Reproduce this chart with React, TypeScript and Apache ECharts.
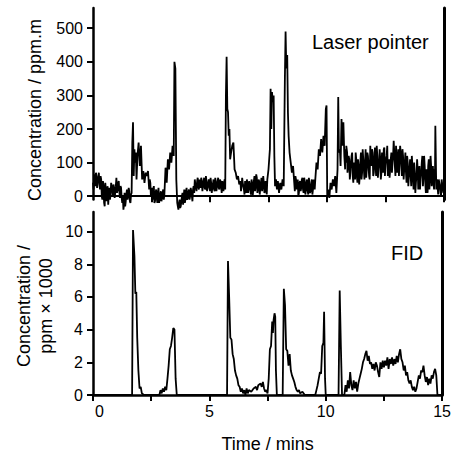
import React, { useEffect, useRef } from "react";
import * as echarts from "echarts";

// Time (mins) and laser pointer concentration (ppm.m), main readings
const laserPoints: [number, number][] = [
  [0, 40], [0.05, 65], [0.1, 30], [0.15, 60], [0.2, 45], [0.25, 70], [0.3, 20], [0.35, 50], [0.4, -10], [0.45, 30],
  [0.5, -30], [0.55, 20], [0.6, 10], [0.65, -25], [0.7, 25], [0.75, 5], [0.8, 30], [0.85, 0], [0.9, 25], [0.95, 10],
  [1.0, 55], [1.05, 20], [1.1, 45], [1.15, -5], [1.2, 25], [1.25, -20], [1.3, -40], [1.35, 10], [1.4, -15], [1.45, 20],
  [1.5, 0], [1.55, 15], [1.6, -20], [1.65, 10], [1.68, 160], [1.71, 220], [1.74, 60], [1.77, 140], [1.8, 100], [1.83, 130],
  [1.86, 50], [1.9, 120], [1.95, 160], [2.0, 90], [2.05, 150], [2.1, 50], [2.15, 75], [2.2, 40], [2.25, 70], [2.3, 60],
  [2.35, 75], [2.4, 20], [2.45, 40], [2.5, 10], [2.55, -10], [2.6, 30], [2.65, -15], [2.7, 20], [2.75, -20], [2.8, 25],
  [2.85, -10], [2.9, 15], [2.95, -5], [3.0, 20], [3.05, 5], [3.1, 85], [3.15, 40], [3.2, 110], [3.25, 80], [3.3, 130],
  [3.35, 100], [3.4, 150], [3.45, 120], [3.48, 400], [3.52, 380], [3.56, 50], [3.6, -20], [3.65, -40], [3.7, -10], [3.75, -30],
  [3.8, 0], [3.85, -25], [3.9, 20], [3.95, -10], [4.0, 25], [4.05, -5], [4.1, 20], [4.15, 0], [4.2, 15], [4.25, -15],
  [4.3, 30], [4.35, 50], [4.4, 25], [4.45, 45], [4.5, 30], [4.55, 50], [4.6, 25], [4.65, 45], [4.7, 30], [4.75, 55],
  [4.8, 20], [4.85, 45], [4.9, 30], [4.95, 50], [5.0, 15], [5.05, 40], [5.1, 25], [5.15, 50], [5.2, 15], [5.25, 40],
  [5.3, 30], [5.35, 55], [5.4, 20], [5.45, 45], [5.5, 10], [5.55, 30], [5.6, 40], [5.65, 20], [5.68, 300], [5.71, 415],
  [5.74, 260], [5.77, 250], [5.8, 180], [5.83, 200], [5.86, 110], [5.9, 130], [5.95, 150], [6.0, 160], [6.05, 80], [6.1, 70],
  [6.15, 50], [6.2, 60], [6.25, 35], [6.3, 45], [6.35, 30], [6.4, 40], [6.45, 20], [6.5, 45], [6.55, 10], [6.6, 40],
  [6.65, 25], [6.7, 35], [6.75, 5], [6.8, 40], [6.85, 20], [6.9, 60], [6.95, 30], [7.0, 55], [7.05, 20], [7.1, 45],
  [7.15, 25], [7.2, 55], [7.25, 30], [7.3, 40], [7.35, 15], [7.4, 30], [7.45, 50], [7.5, 80], [7.53, 110], [7.56, 140],
  [7.59, 320], [7.62, 200], [7.65, 310], [7.68, 280], [7.72, 300], [7.75, 120], [7.78, 30], [7.82, 50], [7.86, 20], [7.9, 45],
  [7.95, 10], [8.0, 40], [8.05, 20], [8.1, 50], [8.15, 30], [8.2, 350], [8.23, 490], [8.26, 380], [8.3, 420], [8.33, 250],
  [8.36, 180], [8.4, 130], [8.45, 100], [8.5, 70], [8.55, 90], [8.6, 40], [8.65, 60], [8.7, 20], [8.75, 50], [8.8, 10],
  [8.85, 45], [8.9, 25], [8.95, 55], [9.0, 10], [9.05, 45], [9.1, 20], [9.15, 50], [9.2, 5], [9.25, 40], [9.3, 15],
  [9.35, 50], [9.4, 20], [9.45, 40], [9.5, 50], [9.55, 100], [9.6, 80], [9.65, 140], [9.7, 120], [9.75, 170], [9.8, 130],
  [9.85, 180], [9.9, 150], [9.95, 260], [9.98, 270], [10.01, 0], [10.05, 20], [10.1, -5], [10.15, 40], [10.2, 20], [10.25, 50],
  [10.3, 30], [10.35, 60], [10.4, 10], [10.45, 80], [10.48, 295], [10.51, 130], [10.55, 140], [10.58, 90], [10.62, 230], [10.66, 150],
  [10.7, 220], [10.74, 120], [10.78, 140], [10.82, 100], [10.86, 130], [10.9, 90], [10.95, 110], [11.0, 70], [11.05, 120], [11.1, 60],
  [11.15, 100], [11.2, 50], [11.25, 110], [11.3, 40], [11.35, 90], [11.4, 60], [11.45, 130], [11.5, 70], [11.55, 110], [11.6, 50],
  [11.65, 140], [11.7, 80], [11.75, 120], [11.8, 60], [11.85, 150], [11.9, 90], [11.95, 130], [12.0, 70], [12.05, 145], [12.1, 60],
  [12.15, 120], [12.2, 80], [12.25, 140], [12.3, 50], [12.35, 130], [12.4, 70], [12.45, 145], [12.5, 90], [12.55, 120], [12.6, 60],
  [12.65, 110], [12.7, 80], [12.75, 130], [12.8, 100], [12.85, 165], [12.9, 90], [12.95, 150], [13.0, 70], [13.05, 140], [13.1, 110],
  [13.15, 130], [13.2, 60], [13.25, 120], [13.3, 80], [13.35, 130], [13.4, 40], [13.45, 100], [13.5, 60], [13.55, 110], [13.6, 30],
  [13.65, 90], [13.7, 20], [13.75, 70], [13.8, 40], [13.85, 110], [13.9, 20], [13.95, 90], [14.0, 50], [14.05, 100], [14.1, 30],
  [14.15, 120], [14.2, 40], [14.25, 80], [14.3, 10], [14.35, 110], [14.4, 50], [14.45, 90], [14.5, 60], [14.55, 40], [14.6, 80],
  [14.63, 210], [14.67, 20], [14.7, 50], [14.75, 5], [14.8, 40], [14.85, 10], [14.9, 50], [14.95, 20], [15.0, 45],
];

// Extra readings between the main ones (the noisy baseline)
const laserNoisePoints: [number, number][] = [
  [0.025, 20], [0.075, 45], [0.125, 70], [0.175, 25], [0.225, 55], [0.275, 35], [0.325, 60], [0.375, 0], [0.425, 45], [0.475, -20],
  [0.525, 40], [0.575, -15], [0.625, 30], [0.675, 5], [0.725, -10], [0.775, 40], [0.825, 15], [0.875, 35], [0.925, -5], [0.975, 30],
  [1.025, 10], [1.075, 40], [1.125, 15], [1.175, 30], [1.225, -5], [1.275, 0], [1.325, -25], [1.375, -30], [1.425, 5], [1.475, -10],
  [1.525, 25], [1.575, -15], [1.625, 5],
  [2.425, 50], [2.475, 0], [2.525, 25], [2.575, 20], [2.625, -20], [2.675, 10], [2.725, -5], [2.775, 10], [2.825, -20], [2.875, 5],
  [2.925, -15], [2.975, 10], [3.025, -10],
  [3.625, -30], [3.675, -20], [3.725, -35], [3.775, -15], [3.825, 10], [3.875, -5], [3.925, -20], [3.975, 15], [4.025, -10], [4.075, 10],
  [4.125, -10], [4.175, 25], [4.225, 0], [4.275, 20],
  [4.325, 10], [4.375, 35], [4.425, 15], [4.475, 55], [4.525, 20], [4.575, 35], [4.625, 55], [4.675, 15], [4.725, 45], [4.775, 25],
  [4.825, 60], [4.875, 15], [4.925, 40], [4.975, 25], [5.025, 55], [5.075, 10], [5.125, 35], [5.175, 20], [5.225, 55], [5.275, 15],
  [5.325, 45], [5.375, 25], [5.425, 50], [5.475, 30], [5.525, 45], [5.575, 15], [5.625, 50],
  [6.325, 15], [6.375, 55], [6.425, 30], [6.475, 5], [6.525, 35], [6.575, 50], [6.625, 10], [6.675, 45], [6.725, 15], [6.775, 50],
  [6.825, 0], [6.875, 45], [6.925, 15], [6.975, 65], [7.025, 10], [7.075, 50], [7.125, 5], [7.175, 40], [7.225, 15], [7.275, 60],
  [7.325, 10], [7.375, 45], [7.425, 5],
  [8.625, 15], [8.675, 50], [8.725, 35], [8.775, 0], [8.825, 40], [8.875, 15], [8.925, 50], [8.975, 20], [9.025, 55], [9.075, 5],
  [9.125, 40], [9.175, 15], [9.225, 55], [9.275, 10], [9.325, 30], [9.375, 5], [9.425, 50], [9.475, 20],
  [10.775, 80], [10.825, 150], [10.875, 70], [10.925, 120], [10.975, 50], [11.025, 100], [11.075, 130], [11.125, 40], [11.175, 90], [11.225, 130],
  [11.275, 60], [11.325, 110], [11.375, 35], [11.425, 100], [11.475, 50], [11.525, 140], [11.575, 80], [11.625, 100], [11.675, 55], [11.725, 130],
  [11.775, 90], [11.825, 50], [11.875, 110], [11.925, 140], [11.975, 60], [12.025, 110], [12.075, 90], [12.125, 150], [12.175, 55], [12.225, 100],
  [12.275, 110], [12.325, 70], [12.375, 100], [12.425, 140], [12.475, 60], [12.525, 110], [12.575, 150], [12.625, 90], [12.675, 55], [12.725, 110],
  [12.775, 70], [12.825, 120], [12.875, 130], [12.925, 60], [12.975, 120], [13.025, 100], [13.075, 60], [13.125, 150], [13.175, 90], [13.225, 140],
  [13.275, 50], [13.325, 100], [13.375, 70], [13.425, 120], [13.475, 30], [13.525, 80], [13.575, 60], [13.625, 120], [13.675, 50], [13.725, 100],
  [13.775, 10], [13.825, 60], [13.875, 80], [13.925, 40], [13.975, 20], [14.025, 70], [14.075, 120], [14.125, 60], [14.175, 90], [14.225, 10],
  [14.275, 50], [14.325, 90], [14.375, 20], [14.425, 120], [14.475, 30], [14.525, 90], [14.575, 20], [14.615, 60],
  [14.725, 30], [14.775, 50], [14.825, 30], [14.875, 0], [14.925, 35], [14.975, 10],
];

// Time (mins) and FID concentration (ppm x 1000)
const fidPoints: [number, number][] = [
  [0, 0], [1.68, 0], [1.72, 10.1], [1.78, 8.5], [1.82, 6.2], [1.86, 6.3], [1.9, 3.5], [1.95, 1.5], [2.0, 0.4], [2.05, 0.5],
  [2.1, 0.1], [2.2, 0], [2.85, 0], [2.9, 0.3], [2.95, 0.1], [3.0, 0.4], [3.05, 0.2], [3.1, 0.5], [3.15, 0.3], [3.2, 1.0],
  [3.25, 1.8], [3.3, 2.8], [3.35, 3.0], [3.4, 3.5], [3.45, 4.1], [3.5, 4.0], [3.55, 1.0], [3.6, 0], [5.76, 0], [5.8, 8.2],
  [5.85, 6.0], [5.9, 3.5], [5.95, 3.4], [6.0, 2.5], [6.05, 2.2], [6.1, 1.5], [6.15, 1.2], [6.2, 1.0], [6.25, 0.6], [6.3, 0.5],
  [6.35, 0.2], [6.4, 0.4], [6.45, 0.1], [6.5, 0.3], [6.55, 0.0], [6.6, 0.4], [6.65, 0.1], [6.7, 0.3], [6.8, 0.2], [6.9, 0.4],
  [7.0, 0.5], [7.05, 0.3], [7.1, 0.6], [7.2, 0.7], [7.25, 0.5], [7.3, 0.8], [7.35, 0.4], [7.4, 0.2], [7.45, 0.3], [7.5, 0.1],
  [7.55, 1.0], [7.6, 2.8], [7.65, 3.0], [7.7, 4.5], [7.73, 3.8], [7.76, 4.6], [7.8, 5.0], [7.83, 4.8], [7.86, 1.5], [7.9, 0],
  [8.15, 0], [8.2, 6.5], [8.25, 5.5], [8.3, 2.8], [8.35, 2.7], [8.4, 1.8], [8.45, 2.5], [8.5, 1.5], [8.55, 1.2], [8.6, 1.0],
  [8.65, 0.8], [8.7, 0.5], [8.75, 0.3], [8.8, 0.2], [8.85, 0.3], [8.9, 0.1], [9.0, 0.2], [9.1, 0], [9.55, 0], [9.6, 0.3],
  [9.65, 0.6], [9.7, 1.0], [9.75, 1.4], [9.8, 1.3], [9.85, 3.0], [9.9, 3.2], [9.93, 5.1], [9.97, 1.0], [10.0, 0], [10.55, 0],
  [10.6, 6.4], [10.65, 3.0], [10.7, 0], [10.8, 0], [10.85, 0.6], [10.9, 0.2], [10.95, 0.9], [11.0, 0.4], [11.05, 1.4], [11.1, 0.6],
  [11.15, 0.3], [11.2, 0.9], [11.25, 0.4], [11.3, 0.8], [11.35, 0.2], [11.4, 0.7], [11.45, 1.0], [11.5, 1.3], [11.55, 1.6], [11.6, 2.0],
  [11.65, 2.2], [11.7, 2.5], [11.75, 2.7], [11.8, 2.1], [11.85, 2.4], [11.9, 1.9], [11.95, 2.0], [12.0, 1.6], [12.05, 1.9], [12.1, 1.5],
  [12.15, 2.0], [12.2, 1.8], [12.25, 1.4], [12.3, 1.1], [12.35, 2.0], [12.4, 1.6], [12.45, 2.1], [12.5, 1.7], [12.55, 2.1], [12.6, 1.8],
  [12.65, 2.3], [12.7, 1.6], [12.75, 2.2], [12.8, 1.9], [12.85, 2.3], [12.9, 1.8], [12.95, 2.2], [13.0, 1.9], [13.05, 2.4], [13.1, 2.0],
  [13.15, 2.5], [13.2, 2.8], [13.25, 2.2], [13.3, 2.0], [13.35, 1.5], [13.4, 1.8], [13.45, 1.2], [13.5, 1.4], [13.55, 0.9], [13.6, 0.7],
  [13.65, 0.9], [13.7, 0.5], [13.75, 0.3], [13.8, 0.5], [13.85, 0.2], [13.9, 0.4], [13.95, 0.8], [14.0, 1.2], [14.05, 1.0], [14.1, 1.5],
  [14.15, 1.4], [14.2, 1.8], [14.25, 1.2], [14.3, 0.8], [14.35, 1.1], [14.4, 0.6], [14.45, 1.0], [14.5, 0.7], [14.55, 1.2], [14.6, 1.0],
  [14.65, 1.4], [14.7, 1.6], [14.75, 1.2], [14.8, 0], [15.0, 0],
];

const xTickValues = [0, 2.5, 5, 7.5, 10, 12.5, 15];
const xLabelValues = [0, 5, 10, 15];
const laserTickValues = [0, 100, 200, 300, 400, 500];
const fidTickValues = [0, 2, 4, 6, 8, 10];

const FONT = "Liberation Sans, Arial, Helvetica, sans-serif";
const BLACK = "#000";

export default function App() {
  const ref = useRef<HTMLDivElement>(null);
  useEffect(() => {
    if (!ref.current) return;
    const chart = echarts.init(ref.current, undefined, { renderer: "svg" });
    const laserData = [...laserPoints, ...laserNoisePoints].sort((a, b) => a[0] - b[0]);
    const axisLine = { show: true, onZero: true, lineStyle: { color: BLACK, width: 2.5 } };
    const rightLine = { show: true, onZero: false, lineStyle: { color: BLACK, width: 3 } };
    const noSplit = { show: false };
    const labelStyle = { color: BLACK, fontSize: 16, fontFamily: FONT };
    chart.setOption({
      animation: false,
      backgroundColor: "#fff",
      grid: [
        { left: 93, top: 8, width: 351, height: 191.6 },
        { left: 93, top: 212, width: 351, height: 188 },
      ],
      xAxis: [
        {
          gridIndex: 0, type: "value", min: 0, max: 15,
          axisLine: { show: true, onZero: true, lineStyle: { color: BLACK, width: 2 } },
          axisTick: { show: true, customValues: xTickValues.slice(1), length: 6, lineStyle: { color: BLACK, width: 2 } },
          axisLabel: { show: false },
          splitLine: noSplit,
        },
        {
          gridIndex: 1, type: "value", min: 0, max: 15,
          axisLine: { show: true, onZero: false, lineStyle: { color: BLACK, width: 2.5 } },
          axisTick: { show: true, customValues: xTickValues, length: 6, lineStyle: { color: BLACK, width: 2 } },
          axisLabel: {
            show: true, customValues: xLabelValues, margin: 8, ...labelStyle,
            formatter: (v: number) => (v === 0 ? "{z|0}" : String(v)),
            rich: { z: { ...labelStyle, padding: [0, 0, 0, 13] } },
          },
          splitLine: noSplit,
          name: "Time / mins", nameLocation: "middle", nameGap: 40,
          nameTextStyle: { color: BLACK, fontSize: 18, fontFamily: FONT },
        },
      ],
      yAxis: [
        {
          gridIndex: 0, type: "value", min: -10, max: 560,
          axisLine,
          axisTick: { show: true, customValues: laserTickValues, length: 6, lineStyle: { color: BLACK, width: 2 } },
          axisLabel: { show: true, customValues: laserTickValues, margin: 10, ...labelStyle },
          splitLine: noSplit,
        },
        {
          gridIndex: 0, type: "value", min: -10, max: 560, position: "right",
          axisLine: rightLine, axisTick: { show: false }, axisLabel: { show: false }, splitLine: noSplit,
        },
        {
          gridIndex: 1, type: "value", min: 0, max: 11.2,
          axisLine,
          axisTick: { show: true, customValues: fidTickValues, length: 6, lineStyle: { color: BLACK, width: 2 } },
          axisLabel: { show: true, customValues: fidTickValues, margin: 10, ...labelStyle },
          splitLine: noSplit,
        },
        {
          gridIndex: 1, type: "value", min: 0, max: 11.2, position: "right",
          axisLine: rightLine, axisTick: { show: false }, axisLabel: { show: false }, splitLine: noSplit,
        },
      ],
      series: [
        {
          type: "line", xAxisIndex: 0, yAxisIndex: 0, data: laserData,
          symbol: "none", showSymbol: false, clip: false,
          lineStyle: { color: BLACK, width: 1.8 },
        },
        {
          type: "line", xAxisIndex: 1, yAxisIndex: 2, data: fidPoints,
          symbol: "none", showSymbol: false, clip: false,
          lineStyle: { color: BLACK, width: 1.8 },
        },
      ],
      graphic: [
        {
          type: "text", x: 35, y: 110, rotation: Math.PI / 2,
          style: { text: "Concentration / ppm.m", fill: BLACK, fontSize: 18, fontFamily: FONT, align: "center", verticalAlign: "middle" },
        },
        {
          type: "text", x: 24, y: 306, rotation: Math.PI / 2,
          style: { text: "Concentration /", fill: BLACK, fontSize: 18, fontFamily: FONT, align: "center", verticalAlign: "middle" },
        },
        {
          type: "text", x: 46, y: 306, rotation: Math.PI / 2,
          style: { text: "ppm × 1000", fill: BLACK, fontSize: 18, fontFamily: FONT, align: "center", verticalAlign: "middle" },
        },
        {
          type: "text", x: 312, y: 42,
          style: { text: "Laser pointer", fill: BLACK, fontSize: 20, fontFamily: FONT, align: "left", verticalAlign: "middle" },
        },
        {
          type: "text", x: 391, y: 253,
          style: { text: "FID", fill: BLACK, fontSize: 20, fontFamily: FONT, align: "left", verticalAlign: "middle" },
        },
      ],
    });
    return () => chart.dispose();
  }, []);
  return <div ref={ref} style={{ width: 454, height: 454, position: "absolute", left: 0, top: 0 }} />;
}
